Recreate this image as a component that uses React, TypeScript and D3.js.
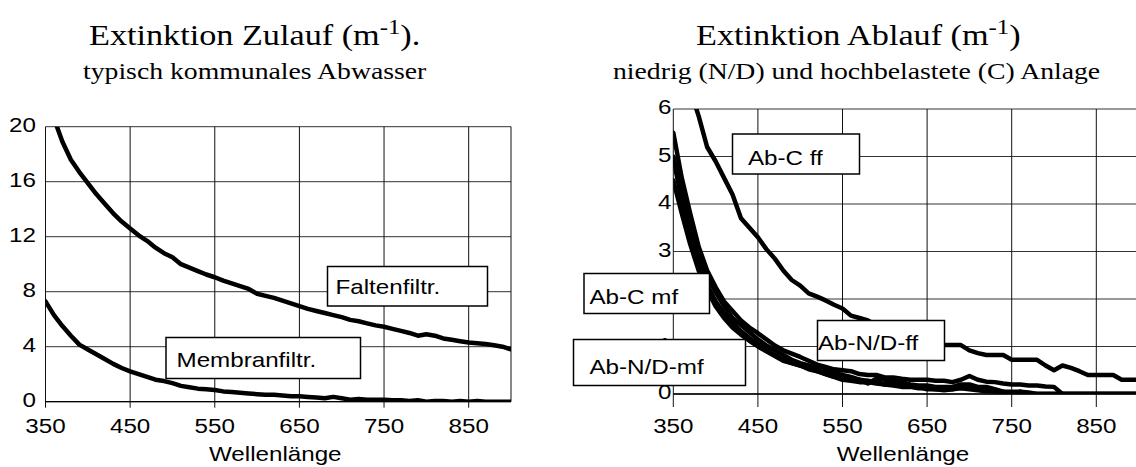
import * as d3 from "d3";

// wavelengths (nm), 10 nm steps
const wavelengths = [
  350, 360, 370, 380, 390, 400, 410, 420, 430, 440,
  450, 460, 470, 480, 490, 500, 510, 520, 530, 540,
  550, 560, 570, 580, 590, 600, 610, 620, 630, 640,
  650, 660, 670, 680, 690, 700, 710, 720, 730, 740,
  750, 760, 770, 780, 790, 800, 810, 820, 830, 840,
  850, 860, 870, 880, 890, 900,
];

// Zulauf
const faltenfiltr = [
  22.6, 20.6, 18.9, 17.6, 16.7, 15.9, 15.1, 14.4, 13.7, 13.1,
  12.6, 12.1, 11.7, 11.2, 10.8, 10.5, 10.0, 9.75, 9.5, 9.25,
  9.05, 8.8, 8.6, 8.4, 8.2, 7.85, 7.7, 7.55, 7.35, 7.15,
  6.95, 6.75, 6.6, 6.45, 6.3, 6.15, 5.95, 5.85, 5.7, 5.55,
  5.45, 5.3, 5.15, 5.0, 4.8, 4.9, 4.8, 4.6, 4.5, 4.4,
  4.3, 4.25, 4.2, 4.1, 4.0, 3.8,
];
const membranfiltr = [
  7.3, 6.3, 5.5, 4.8, 4.15, 3.8, 3.45, 3.1, 2.75, 2.45,
  2.2, 2.0, 1.8, 1.6, 1.5, 1.35, 1.15, 1.05, 0.95, 0.9,
  0.85, 0.75, 0.7, 0.65, 0.6, 0.55, 0.5, 0.5, 0.45, 0.4,
  0.4, 0.35, 0.3, 0.25, 0.35, 0.25, 0.15, 0.2, 0.15, 0.15,
  0.15, 0.1, 0.1, 0.05, 0.1, 0.0, 0.05, 0.05, 0.0, 0.05,
  0.0, 0.05, 0.0, 0.0, 0.0, 0.0,
];

// Ablauf
const abCff = [
  null, null, 6.4, 5.85, 5.2, 4.9, 4.55, 4.2, 3.7, 3.5,
  3.3, 3.05, 2.85, 2.6, 2.4, 2.28, 2.12, 2.05, 1.97, 1.88,
  1.8, 1.65, 1.6, 1.55, 1.45, 1.35, 1.3, 1.2, 1.15, 1.1,
  1.05, 1.03, 1.03, 1.03, 1.03, 0.92, 0.86, 0.82, 0.82, 0.82,
  0.72, 0.72, 0.72, 0.72, 0.6, 0.5, 0.6, 0.55, 0.48, 0.4,
  0.4, 0.4, 0.4, 0.3, 0.3, 0.3,
];
const abCmf = [
  5.5, 4.55, 3.8, 3.1, 2.6, 2.25, 1.95, 1.75, 1.55, 1.4,
  1.28, 1.15, 1.02, 0.92, 0.85, 0.78, 0.7, 0.62, 0.57, 0.52,
  0.5, 0.48, 0.42, 0.4, 0.4, 0.35, 0.35, 0.32, 0.3, 0.3,
  0.3, 0.28, 0.28, 0.25, 0.3, 0.38, 0.3, 0.26, 0.25, 0.22,
  0.2, 0.2, 0.18, 0.18, 0.16, 0.15, 0, 0, 0, 0,
  0, 0, 0, 0, 0, 0,
];
const abNDff = [
  5.0, 4.3, 3.6, 3.0, 2.5, 2.15, 1.85, 1.6, 1.45, 1.3,
  1.15, 1.02, 0.92, 0.82, 0.72, 0.65, 0.6, 0.55, 0.5, 0.45,
  0.4, 0.36, 0.3, 0.22, 0.32, 0.3, 0.28, 0.25, 0.2, 0.18,
  0.18, 0.15, 0.15, 0.15, 0.2, 0.2, 0.15, 0.15, 0.1, 0.05,
  0, 0.05, 0, 0, 0, 0, 0, 0, 0, 0,
  0, 0, 0, 0, 0, 0,
];
const abNDmf1 = [
  4.95, 4.1, 3.35, 2.75, 2.3, 1.95, 1.7, 1.5, 1.32, 1.18,
  1.05, 0.92, 0.82, 0.72, 0.65, 0.6, 0.55, 0.48, 0.42, 0.36,
  0.33, 0.3, 0.3, 0.28, 0.25, 0.2, 0.18, 0.15, 0.15, 0.12,
  0.12, 0.1, 0.1, 0.1, 0.12, 0.1, 0.08, 0.06, 0.05, 0.03,
  0, 0, 0, 0, 0, 0, 0, 0, 0, 0,
  0, 0, 0, 0, 0, 0,
];
const abNDmf2 = [
  4.5, 3.8, 3.15, 2.6, 2.2, 1.85, 1.6, 1.4, 1.25, 1.12,
  1.0, 0.9, 0.8, 0.7, 0.65, 0.6, 0.52, 0.48, 0.42, 0.36,
  0.3, 0.28, 0.25, 0.25, 0.22, 0.2, 0.22, 0.2, 0.18, 0.15,
  0.1, 0.1, 0.08, 0.1, 0.15, 0.12, 0.1, 0.1, 0.08, 0.05,
  0.05, 0.05, 0.03, 0, 0, 0, 0, 0, 0, 0,
  0, 0, 0, 0, 0, 0,
];

const xTicks = [350, 450, 550, 650, 750, 850];
const yTicksLeft = [0, 4, 8, 12, 16, 20];
const yTicksRight = [0, 1, 2, 3, 4, 5, 6];

const W = 1136;
const H = 467;
const SX = 1.18; // source picture is stretched horizontally
const SANS = "'Liberation Sans', Arial, sans-serif";
const SERIF = "'Liberation Serif', 'Times New Roman', serif";

type Lbl = { text: string; x: number; y: number; w: number; h: number; tx: number; ty: number };

// label boxes (pixel layout)
const leftLabels: Lbl[] = [
  { text: "Faltenfiltr.", x: 327.5, y: 266.5, w: 160, h: 39.5, tx: 335.5, ty: 294 },
  { text: "Membranfiltr.", x: 166, y: 337.5, w: 194.5, h: 41, tx: 176.5, ty: 366.5 },
];
const rightLabels: Lbl[] = [
  { text: "Ab-C ff", x: 732.5, y: 134, w: 127, h: 40, tx: 748, ty: 165 },
  { text: "Ab-C mf", x: 584, y: 273.5, w: 125.5, h: 40, tx: 589.5, ty: 303.5 },
  { text: "Ab-N/D-mf", x: 573.5, y: 339.5, w: 172, h: 46, tx: 589.5, ty: 373.5 },
  { text: "Ab-N/D-ff", x: 817.5, y: 320.5, w: 127, h: 40, tx: 818, ty: 350 },
];

function SText(props: any) {
  const { x, y, children, anchor = "start", size = 20.5, family = SANS } = props;
  return (
    <text
      transform={`translate(${x},${y}) scale(${SX},1)`}
      textAnchor={anchor}
      fontSize={size}
      fontFamily={family}
      fill="#000"
    >
      {children}
    </text>
  );
}

function Panel(props: any) {
  const { id, x, y, series, yTicks, tickLen, yLabelX, labels } = props;
  const [x0, x1] = x.range();
  const [y0, y1] = y.range();
  const line = d3
    .line<[number, number | null]>()
    .defined((d) => d[1] != null)
    .x((d) => x(d[0]))
    .y((d) => y(d[1] as number));

  return (
    <g>
      <defs>
        <clipPath id={id}>
          <rect x={x0} y={y1} width={x1 - x0} height={y0 - y1} />
        </clipPath>
      </defs>
      {yTicks.map((t: number) => (
        <line key={"h" + t} x1={x0} x2={x1} y1={y(t)} y2={y(t)} stroke="#333" strokeWidth={1} />
      ))}
      {xTicks.map((t) => (
        <line key={"v" + t} x1={x(t)} x2={x(t)} y1={y1} y2={y0 + tickLen} stroke="#111" strokeWidth={1} />
      ))}
      <line x1={x1} x2={x1} y1={y1} y2={y0} stroke="#111" strokeWidth={1} />
      <line x1={x0} x2={x1} y1={y0} y2={y0} stroke="#000" strokeWidth={1.3} />
      {yTicks.map((t: number) => (
        <SText key={"yl" + t} x={yLabelX} y={y(t) + 5} anchor="end">
          {t}
        </SText>
      ))}
      {xTicks.map((t) => (
        <SText key={"xl" + t} x={x(t)} y={432.5} anchor="middle">
          {t}
        </SText>
      ))}
      <SText x={(x0 + x1) / 2 - 3} y={461} anchor="middle">
        Wellenlänge
      </SText>
      <g clipPath={`url(#${id})`}>
        {series.map((s: (number | null)[], i: number) => (
          <path
            key={i}
            d={line(wavelengths.map((w, j) => [w, s[j]] as [number, number | null])) || ""}
            fill="none"
            stroke="#000"
            strokeWidth={4.5}
            strokeLinejoin="round"
            strokeLinecap="round"
          />
        ))}
      </g>
      {labels.map((l: Lbl) => (
        <g key={l.text}>
          <rect x={l.x} y={l.y} width={l.w} height={l.h} fill="#fff" stroke="#000" strokeWidth={1.5} />
          <SText x={l.tx} y={l.ty}>
            {l.text}
          </SText>
        </g>
      ))}
    </g>
  );
}

export default function App() {
  const xL = d3.scaleLinear().domain([350, 900]).range([45.5, 511]);
  const yL = d3.scaleLinear().domain([0, 20]).range([401.7, 126.7]);
  const xR = d3.scaleLinear().domain([350, 900]).range([673.3, 1138.6]);
  const yR = d3.scaleLinear().domain([0, 6]).range([394, 109]);

  return (
    <svg
      width={W}
      height={H}
      style={{ position: "absolute", left: 0, top: 0, background: "#fff" }}
    >
      <rect width={W} height={H} fill="#fff" />
      <SText x={89} y={45} size={29} family={SERIF}>
        Extinktion Zulauf (m<tspan fontSize={21} dy={-11}>-1</tspan>
        <tspan dy={11}>).</tspan>
      </SText>
      <SText x={83} y={79} size={23.5} family={SERIF}>
        typisch kommunales Abwasser
      </SText>
      <SText x={696} y={45} size={29} family={SERIF}>
        Extinktion Ablauf (m<tspan fontSize={21} dy={-11}>-1</tspan>
        <tspan dy={11}>)</tspan>
      </SText>
      <SText x={613} y={79} size={23.5} family={SERIF}>
        niedrig (N/D) und hochbelastete (C) Anlage
      </SText>

      <Panel
        id="clipL"
        x={xL}
        y={yL}
        series={[faltenfiltr, membranfiltr]}
        yTicks={yTicksLeft}
        tickLen={6}
        yLabelX={36}
        labels={leftLabels}
      />
      <Panel
        id="clipR"
        x={xR}
        y={yR}
        series={[abCff, abCmf, abNDff, abNDmf1, abNDmf2]}
        yTicks={yTicksRight}
        tickLen={13}
        yLabelX={671.5}
        labels={rightLabels}
      />
    </svg>
  );
}
